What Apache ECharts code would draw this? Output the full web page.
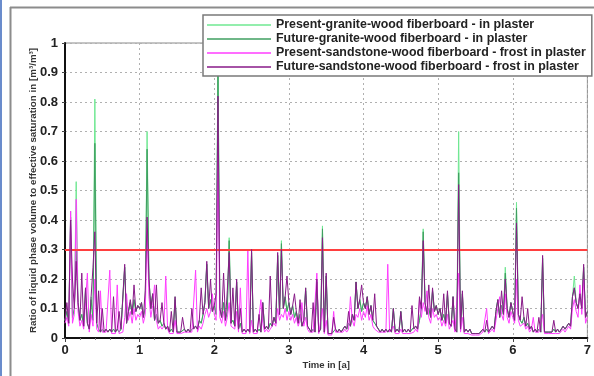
<!DOCTYPE html>
<html><head><meta charset="utf-8">
<script src="https://cdn.jsdelivr.net/npm/echarts@6/dist/echarts.min.js"></script>
<style>html,body{margin:0;padding:0;background:#fff}#c{width:594px;height:376px}</style>
</head><body><div id="c"></div>
<script>
// Sampling step of the simulation output (years)
const stepYears = 0.025;
const seriesNames = [
  'Present-granite-wood fiberboard - in plaster',
  'Future-granite-wood fiberboard - in plaster',
  'Present-sandstone-wood fiberboard - frost in plaster',
  'Future-sandstone-wood fiberboard - frost in plaster'
];
const xTicks = [0,1,2,3,4,5,6,7];
const yTicks = [0,0.1,0.2,0.3,0.4,0.5,0.6,0.7,0.8,0.9,1];
const thresholdValue = 0.3;

// Future-sandstone (dark purple)
const futureSandstone = [
 .06,.12,.05,.40,.20,.10,.26,.12,.06,.22,.04,.17,.05,.03,.14,.24,.36,.05,.16,.02,.10,.02,.03,.02,.03,.02,.14,.02,.03,.09,.03,.03,.25,.05,.09,.13,.08,.18,.09,.11,
 .10,.12,.07,.16,.41,.20,.10,.15,.06,.18,.05,.06,.12,.05,.03,.04,.02,.09,.02,.14,.02,.015,.02,.07,.03,.02,.03,.02,.10,.03,.04,.03,.06,.17,.08,.12,.26,.10,.20,.09,
 .11,.15,.82,.10,.07,.22,.06,.16,.29,.05,.17,.04,.20,.03,.10,.02,.03,.02,.03,.02,.30,.02,.03,.02,.08,.02,.12,.03,.04,.03,.21,.04,.07,.05,.29,.08,.30,.10,.14,.21,
 .12,.08,.11,.15,.09,.05,.13,.04,.06,.17,.04,.03,.02,.12,.02,.20,.02,.03,.34,.02,.22,.015,.02,.015,.07,.03,.02,.03,.02,.03,.04,.03,.09,.04,.08,.06,.19,.10,.13,.18,
 .12,.10,.14,.08,.11,.06,.15,.04,.03,.02,.03,.02,.03,.02,.03,.02,.10,.02,.03,.02,.09,.02,.03,.02,.03,.02,.11,.03,.04,.03,.14,.10,.33,.12,.08,.18,.07,.17,.09,.11,
 .08,.10,.06,.15,.05,.16,.05,.04,.14,.03,.02,.52,.03,.16,.02,.03,.02,.03,.015,.02,.015,.02,.015,.02,.03,.02,.06,.02,.03,.04,.03,.09,.13,.07,.16,.08,.20,.10,.07,.12,
 .09,.06,.39,.08,.06,.14,.07,.04,.10,.03,.04,.02,.03,.02,.07,.02,.28,.02,.015,.02,.015,.02,.06,.02,.03,.02,.03,.04,.03,.04,.05,.04,.14,.17,.12,.10,.15,.10,.25,.07,.09
];
// Present-sandstone (magenta)
const presentSandstone = [
 .05,.07,.04,.43,.05,.08,.47,.09,.04,.06,.03,.12,.22,.02,.08,.04,.20,.03,.02,.16,.02,.015,.02,.015,.23,.015,.02,.015,.18,.015,.02,.02,.07,.15,.06,.09,.05,.10,.06,.08,
 .07,.09,.05,.08,.37,.14,.07,.11,.18,.06,.03,.04,.03,.04,.21,.03,.015,.02,.015,.06,.015,.01,.015,.015,.02,.015,.02,.015,.02,.02,.23,.02,.04,.03,.05,.08,.10,.07,.09,.15,
 .08,.06,.62,.07,.05,.09,.04,.07,.12,.04,.04,.03,.09,.02,.17,.015,.02,.015,.30,.015,.06,.015,.02,.015,.02,.13,.05,.02,.03,.02,.03,.03,.05,.04,.10,.06,.08,.07,.10,.06,
 .09,.06,.08,.05,.07,.04,.06,.12,.04,.07,.03,.02,.015,.02,.015,.22,.015,.02,.10,.015,.06,.01,.015,.01,.09,.02,.015,.02,.015,.02,.03,.02,.03,.14,.06,.04,.08,.07,.10,.06,
 .09,.07,.11,.06,.08,.04,.03,.03,.02,.015,.02,.015,.02,.25,.02,.015,.04,.015,.02,.015,.03,.015,.02,.015,.02,.015,.02,.02,.03,.02,.13,.07,.12,.09,.16,.07,.05,.10,.07,.08,
 .06,.07,.04,.06,.04,.08,.03,.03,.06,.02,.015,.22,.02,.07,.015,.02,.015,.02,.01,.015,.01,.015,.01,.015,.02,.015,.10,.015,.02,.03,.02,.06,.10,.14,.08,.06,.15,.07,.05,.09,
 .07,.05,.20,.06,.04,.04,.05,.03,.04,.02,.03,.07,.02,.015,.02,.015,.08,.015,.01,.015,.01,.015,.02,.015,.02,.015,.02,.03,.02,.03,.04,.03,.10,.13,.09,.07,.18,.08,.20,.05,.07
];
// Present-granite (light green)
const presentGranite = [
 .06,.09,.05,.43,.07,.10,.53,.12,.06,.08,.04,.17,.05,.03,.14,.06,.81,.05,.03,.02,.03,.02,.03,.02,.03,.02,.03,.02,.03,.02,.03,.03,.24,.05,.09,.12,.08,.13,.09,.11,
 .10,.12,.07,.10,.70,.20,.10,.15,.06,.08,.05,.06,.04,.05,.03,.04,.02,.03,.02,.14,.02,.015,.02,.02,.03,.02,.03,.02,.03,.03,.04,.03,.06,.05,.08,.13,.25,.10,.13,.09,
 .11,.08,.97,.10,.07,.12,.06,.09,.34,.05,.06,.04,.19,.03,.05,.02,.03,.02,.03,.02,.29,.02,.03,.02,.03,.02,.12,.03,.04,.03,.05,.04,.07,.05,.28,.08,.33,.10,.14,.09,
 .12,.08,.11,.07,.09,.05,.08,.04,.06,.17,.04,.03,.02,.03,.02,.19,.02,.03,.38,.02,.21,.015,.02,.015,.02,.03,.02,.03,.02,.03,.04,.03,.05,.04,.08,.06,.19,.10,.13,.09,
 .12,.10,.14,.08,.11,.06,.05,.04,.03,.02,.03,.02,.03,.02,.03,.02,.10,.02,.03,.02,.09,.02,.03,.02,.03,.02,.03,.03,.04,.03,.06,.10,.37,.12,.08,.10,.07,.16,.09,.11,
 .08,.10,.06,.08,.05,.15,.05,.04,.14,.03,.02,.70,.03,.15,.02,.03,.02,.03,.015,.02,.015,.02,.015,.02,.03,.02,.03,.02,.03,.04,.03,.09,.13,.07,.11,.08,.24,.10,.07,.12,
 .09,.06,.46,.08,.06,.05,.07,.04,.05,.03,.04,.02,.03,.02,.03,.02,.27,.02,.015,.02,.015,.02,.03,.02,.03,.02,.03,.04,.03,.04,.05,.04,.14,.21,.12,.10,.15,.10,.24,.07,.09
];
// Future-granite (dark green)
const futureGranite = [
 .06,.09,.05,.41,.07,.10,.30,.12,.06,.08,.04,.16,.05,.03,.13,.06,.66,.05,.03,.02,.03,.02,.03,.02,.03,.02,.03,.02,.03,.02,.03,.03,.24,.05,.09,.12,.08,.13,.09,.11,
 .10,.12,.07,.10,.64,.20,.10,.15,.06,.08,.05,.06,.04,.05,.03,.04,.02,.03,.02,.13,.02,.015,.02,.02,.03,.02,.03,.02,.03,.03,.04,.03,.06,.05,.08,.12,.25,.10,.13,.09,
 .11,.08,.93,.10,.07,.12,.06,.09,.33,.05,.06,.04,.19,.03,.05,.02,.03,.02,.03,.02,.29,.02,.03,.02,.03,.02,.12,.03,.04,.03,.05,.04,.07,.05,.28,.08,.32,.10,.14,.09,
 .12,.08,.11,.07,.09,.05,.08,.04,.06,.16,.04,.03,.02,.03,.02,.19,.02,.03,.37,.02,.21,.015,.02,.015,.02,.03,.02,.03,.02,.03,.04,.03,.05,.04,.08,.06,.19,.10,.13,.09,
 .12,.10,.14,.08,.11,.06,.05,.04,.03,.02,.03,.02,.03,.02,.03,.02,.10,.02,.03,.02,.09,.02,.03,.02,.03,.02,.03,.03,.04,.03,.06,.10,.36,.12,.08,.10,.07,.16,.09,.11,
 .08,.10,.06,.08,.05,.15,.05,.04,.14,.03,.02,.56,.03,.15,.02,.03,.02,.03,.015,.02,.015,.02,.015,.02,.03,.02,.03,.02,.03,.04,.03,.09,.13,.07,.11,.08,.22,.10,.07,.12,
 .09,.06,.44,.08,.06,.05,.07,.04,.05,.03,.04,.02,.03,.02,.03,.02,.27,.02,.015,.02,.015,.02,.03,.02,.03,.02,.03,.04,.03,.04,.05,.04,.14,.17,.12,.10,.15,.10,.24,.07,.09
];

const colors = ['#6fe892', '#3f9f60', '#ff3cff', '#881a88'];
const allValues = [presentGranite, futureGranite, presentSandstone, futureSandstone];
const toPairs = arr => arr.map((v, i) => [i * stepYears, v]);

const FONT = 'Liberation Sans, Arial, sans-serif';
const chart = echarts.init(document.getElementById('c'), null, {renderer: 'canvas'});

const series = allValues.map((arr, k) => ({
  name: seriesNames[k],
  type: 'line',
  data: toPairs(arr),
  symbol: 'none',
  showSymbol: false,
  animation: false,
  lineStyle: {width: 1, color: colors[k]},
  itemStyle: {color: colors[k]},
  z: 2 + k
}));
series.push({
  name: 'threshold',
  type: 'line',
  data: [],
  z: 10,
  markLine: {
    silent: true, symbol: ['none', 'none'], animation: false,
    label: {show: false},
    lineStyle: {color: '#ff3f3f', width: 2, type: 'solid'},
    data: [{yAxis: thresholdValue}]
  }
});

chart.setOption({
  animation: false,
  backgroundColor: '#fff',
  graphic: [
    {type: 'rect', shape: {x: 0, y: 0, width: 2, height: 376}, style: {fill: '#6a8ccc'}, z: 0},
    {type: 'line', shape: {x1: 10.5, y1: 7, x2: 10.5, y2: 376}, style: {stroke: '#8c8c8c', lineWidth: 2}, z: 0},
    {type: 'line', shape: {x1: 10, y1: 7.5, x2: 594, y2: 7.5}, style: {stroke: '#8c8c8c', lineWidth: 2}, z: 0}
  ],
  grid: {left: 65, right: 6, top: 43, bottom: 38, show: true, borderColor: '#8a8a8a', borderWidth: 1, backgroundColor: 'transparent'},
  legend: {
    data: seriesNames,
    orient: 'vertical',
    left: 203, top: 15,
    padding: [3, 6, 2, 4],
    itemGap: 0,
    icon: 'rect',
    itemWidth: 64, itemHeight: 1.5,
    backgroundColor: '#fff',
    borderColor: '#7a7a7a', borderWidth: 1.5,
    textStyle: {fontFamily: FONT, fontSize: 12.4, lineHeight: 14, fontWeight: 'bold', color: '#222', padding: [0, 0, 0, 0]},
    z: 20
  },
  xAxis: {
    type: 'value', min: 0, max: 7, interval: 1,
    name: 'Time in [a]', nameLocation: 'middle', nameGap: 22, nameMoveOverlap: false,
    nameTextStyle: {fontFamily: FONT, fontSize: 9.5, fontWeight: 'bold', color: '#333'},
    axisLine: {show: true, lineStyle: {color: '#111', width: 2}},
    axisTick: {show: true, length: 4, lineStyle: {color: '#444'}},
    minorTick: {show: true, splitNumber: 5, length: 2, lineStyle: {color: '#777'}},
    axisLabel: {fontFamily: FONT, fontSize: 13, fontWeight: 'bold', color: '#222', margin: 6,
      formatter: v => xTicks.includes(v) ? String(v) : ''},
    splitLine: {show: true, lineStyle: {color: '#b0b0b0', type: [2, 3], width: 1}}
  },
  yAxis: {
    type: 'value', min: 0, max: 1, interval: 0.1,
    name: 'Ratio of liquid phase volume to effective saturation in [m³/m³]',
    nameLocation: 'middle', nameGap: 27, nameRotate: 90, nameMoveOverlap: false,
    nameTextStyle: {fontFamily: FONT, fontSize: 9.8, fontWeight: 'bold', color: '#333'},
    axisLine: {show: true, lineStyle: {color: '#111', width: 2}},
    axisTick: {show: true, length: 3, lineStyle: {color: '#444'}},
    axisLabel: {fontFamily: FONT, fontSize: 13, fontWeight: 'bold', color: '#222', margin: 7,
      formatter: v => { const r = Math.round(v * 10) / 10; return yTicks.includes(r) ? String(r) : ''; }},
    splitLine: {show: true, lineStyle: {color: '#b0b0b0', type: [2, 3], width: 1}}
  },
  series: series
});
</script></body></html>
